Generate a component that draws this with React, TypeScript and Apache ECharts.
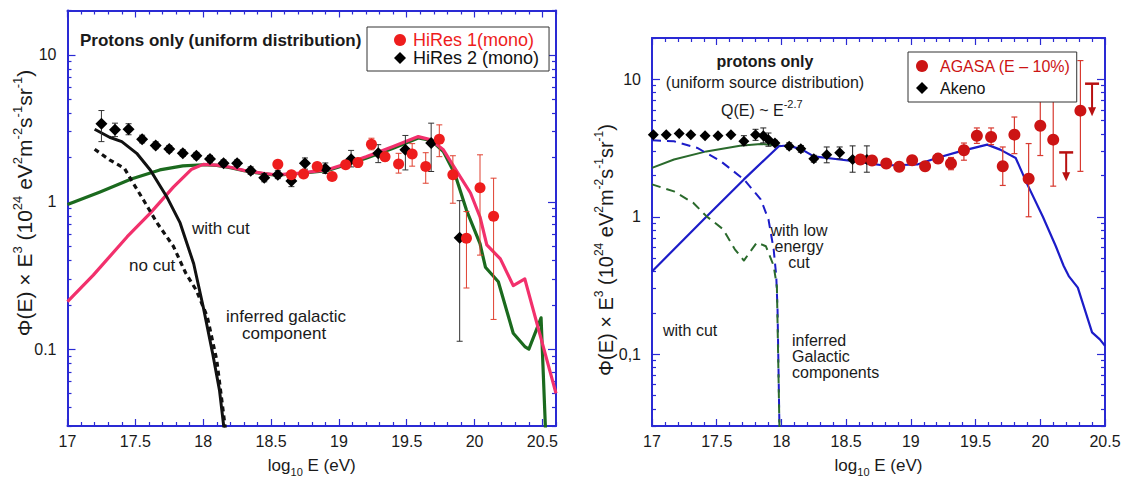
import React, { useEffect, useRef } from 'react';
import * as echarts from 'echarts';

// ---------------- Left panel (HiRes) ----------------
const hires1X = [18.55, 18.65, 18.74, 18.84, 18.95, 19.05, 19.14, 19.24, 19.34, 19.44, 19.54, 19.64, 19.74, 19.84, 19.94, 20.04, 20.14];
const hires1Y = [1.80, 1.53, 1.55, 1.74, 1.49, 1.79, 1.85, 2.47, 2.03, 1.81, 2.12, 1.74, 2.67, 1.53, 0.566, 1.25, 0.80];
const hires1Lo = [1.72, 1.46, 1.48, 1.66, 1.42, 1.71, 1.76, 2.26, 1.90, 1.57, 1.75, 1.34, 2.03, 0.98, 0.26, 0.435, 0.159];
const hires1Hi = [1.88, 1.60, 1.62, 1.82, 1.56, 1.87, 1.94, 2.71, 2.18, 2.14, 2.49, 2.16, 3.34, 2.06, 0.86, 2.09, 1.45];

const hires2X = [17.25, 17.35, 17.45, 17.55, 17.65, 17.75, 17.85, 17.95, 18.05, 18.15, 18.25, 18.35, 18.45, 18.55, 18.65, 18.75, 18.9, 19.09, 19.29, 19.49, 19.68, 19.89];
const hires2Y = [3.40, 3.09, 3.12, 2.67, 2.42, 2.29, 2.14, 2.06, 1.96, 1.83, 1.83, 1.63, 1.46, 1.53, 1.39, 1.83, 1.69, 1.95, 2.14, 2.26, 2.51, 0.57];
const hires2Lo = [2.57, 2.78, 2.86, 2.52, 2.30, 2.18, 2.04, 1.96, 1.86, 1.74, 1.74, 1.54, 1.37, 1.44, 1.27, 1.67, 1.56, 1.73, 1.85, 1.65, 1.61, 0.113];
const hires2Hi = [4.18, 3.43, 3.40, 2.84, 2.56, 2.42, 2.26, 2.17, 2.07, 1.93, 1.93, 1.73, 1.56, 1.63, 1.53, 1.99, 1.84, 2.24, 2.45, 2.83, 3.43, 1.02];

const pinkX = [17.0, 17.19, 17.44, 17.61, 17.78, 17.915, 18.0, 18.1, 18.2, 18.3, 18.45, 18.54, 18.71, 18.91, 19.03, 19.2, 19.4, 19.585, 19.68, 19.77, 19.855, 19.97, 20.04, 20.09, 20.19, 20.285, 20.37, 20.6];
const pinkY = [0.21, 0.318, 0.58, 0.84, 1.26, 1.67, 1.80, 1.78, 1.72, 1.64, 1.56, 1.53, 1.57, 1.65, 1.79, 2.03, 2.38, 2.78, 2.64, 2.26, 1.69, 1.15, 0.79, 0.51, 0.41, 0.27, 0.30, 0.05];

const greenX = [17.0, 17.24, 17.47, 17.68, 17.85, 18.0, 18.1, 18.2, 18.3, 18.45, 18.54, 18.71, 18.91, 19.03, 19.2, 19.4, 19.585, 19.68, 19.77, 19.855, 19.94, 20.04, 20.08, 20.175, 20.285, 20.37, 20.40, 20.49, 20.525];
const greenY = [0.96, 1.17, 1.43, 1.65, 1.76, 1.79, 1.77, 1.71, 1.63, 1.55, 1.52, 1.56, 1.63, 1.76, 1.98, 2.32, 2.72, 2.62, 2.20, 1.55, 0.88, 0.52, 0.36, 0.287, 0.128, 0.104, 0.10, 0.163, 0.025];

const withCutX = [17.2, 17.31, 17.4, 17.51, 17.61, 17.73, 17.83, 17.93, 18.0, 18.07, 18.12, 18.155];
const withCutY = [3.12, 2.75, 2.57, 2.14, 1.65, 1.09, 0.72, 0.38, 0.194, 0.093, 0.0526, 0.028];

const noCutX = [17.2, 17.31, 17.42, 17.47, 17.56, 17.66, 17.78, 17.87, 17.95, 18.03, 18.1, 18.165];
const noCutY = [2.28, 1.93, 1.69, 1.41, 1.03, 0.72, 0.50, 0.33, 0.25, 0.166, 0.084, 0.028];

// ---------------- Right panel (AGASA / Akeno) ----------------
const akenoX = [17.01, 17.11, 17.21, 17.30, 17.41, 17.51, 17.61, 17.71, 17.80, 17.86, 17.90, 17.95, 18.06, 18.15, 18.25, 18.35, 18.45, 18.55, 18.66];
const akenoY = [3.96, 3.96, 4.03, 3.96, 3.89, 3.89, 3.96, 3.54, 3.96, 3.89, 3.64, 3.44, 3.26, 3.12, 2.64, 2.83, 2.92, 2.61, 2.61];
const akenoLo = [3.85, 3.85, 3.92, 3.85, 3.78, 3.78, 3.85, 3.30, 3.60, 3.45, 3.26, 3.30, 3.10, 2.95, 2.50, 2.47, 2.64, 2.11, 2.11];
const akenoHi = [4.07, 4.07, 4.14, 4.07, 4.00, 4.00, 4.07, 3.89, 4.33, 4.43, 4.07, 3.60, 3.45, 3.30, 2.80, 3.22, 3.22, 3.28, 3.28];

const agasaX = [18.61, 18.70, 18.81, 18.91, 19.01, 19.11, 19.21, 19.31, 19.41, 19.51, 19.62, 19.71, 19.80, 19.91, 20.0, 20.1, 20.31];
const agasaY = [2.61, 2.57, 2.44, 2.31, 2.58, 2.33, 2.65, 2.44, 3.05, 3.89, 3.81, 2.33, 3.96, 1.89, 4.6, 3.64, 5.92];
const agasaLo = [2.50, 2.46, 2.34, 2.21, 2.47, 2.23, 2.45, 2.20, 2.58, 3.42, 3.35, 1.69, 2.88, 1.0, 2.79, 1.67, 2.14];
const agasaHi = [2.72, 2.68, 2.55, 2.41, 2.69, 2.43, 2.87, 2.70, 3.44, 4.43, 4.43, 3.22, 5.32, 3.41, 7.1, 7.1, 13.7];

const limitX = [20.2, 20.40];
const limitTop = [2.94, 9.3];
const limitBottom = [1.81, 5.4];

const blueX = [17.0, 17.42, 17.71, 17.98, 18.04, 18.15, 18.25, 18.45, 18.56, 18.79, 19.05, 19.2, 19.38, 19.59, 19.69, 19.81, 19.90, 20.02, 20.12, 20.18, 20.22, 20.29, 20.40, 20.46, 20.5];
const blueY = [0.40, 1.0, 1.87, 3.26, 3.30, 3.12, 2.75, 2.61, 2.54, 2.36, 2.40, 2.68, 2.99, 3.35, 3.08, 2.68, 1.72, 1.0, 0.61, 0.44, 0.37, 0.305, 0.144, 0.128, 0.115];

const greenRX = [17.0, 17.17, 17.42, 17.68, 17.84, 17.965, 18.0];
const greenRY = [2.27, 2.61, 2.99, 3.29, 3.39, 3.30, 3.28];

const blueDashX = [17.0, 17.17, 17.35, 17.53, 17.71, 17.84, 17.9, 17.94, 17.96, 17.97, 17.985];
const blueDashY = [3.60, 3.54, 3.17, 2.54, 1.87, 1.34, 0.955, 0.58, 0.37, 0.21, 0.028];

const greenDashX = [17.0, 17.17, 17.32, 17.42, 17.55, 17.64, 17.71, 17.81, 17.88, 17.94, 17.965, 17.985];
const greenDashY = [1.72, 1.53, 1.26, 1.01, 0.81, 0.58, 0.48, 0.65, 0.61, 0.44, 0.31, 0.028];

// ---------------- Axis ticks ----------------
const majorXTicks = [17, 17.5, 18, 18.5, 19, 19.5, 20, 20.5];
const majorYTicks = [0.1, 1, 10];

const FONT = '"Liberation Sans", Arial, Helvetica, sans-serif';
const FRAME = '#2a2ad4';

function minorXTicks(max: number) {
  const out: number[] = [];
  for (let i = 171; i <= Math.round(max * 10); i++) if (i % 5 !== 0) out.push(i / 10);
  return out;
}
function minorYTicks() {
  const out: number[] = [];
  [0.01, 0.1, 1, 10].forEach((d) => {
    for (let k = 2; k <= 9; k++) {
      const v = +(k * d).toPrecision(3);
      if (v >= 0.03 && v <= 20) out.push(v);
    }
  });
  return out;
}

const zip = (xs: number[], ys: number[]) => xs.map((x, i) => [x, ys[i]]);
const zip3 = (xs: number[], a: number[], b: number[]) => xs.map((x, i) => [x, a[i], b[i]]);

const xTitle = '{n|log}{s|10}{n| E (eV)}';
const yTitle = '{n|Φ(E) × E}{p|3}{n| (10}{p|24}{n| eV}{p|2}{n|m}{p|-2}{n|s}{p|-1}{n|sr}{p|-1}{n|)}';

function makeXAxes(gridIndex: number, max: number, labelSize: number) {
  const base = { type: 'value', gridIndex, min: 17, max, splitLine: { show: false } };
  const label = {
    show: true, customValues: majorXTicks, fontSize: labelSize, color: '#1a1a1a', fontFamily: FONT, margin: 7,
    formatter: (v: number) => String(Math.round(v * 10) / 10),
  };
  const mk = (position: string, main: boolean) => ({
    ...base,
    position,
    axisLine: { show: main, onZero: false, lineStyle: { color: FRAME, width: 2 } },
    axisTick: { show: true, inside: true, length: main ? 7 : 4, customValues: main ? majorXTicks : minorXTicks(max), lineStyle: { color: FRAME, width: 1.2 } },
    axisLabel: main && position === 'bottom' ? label : { show: false },
    ...(main && position === 'bottom'
      ? {
          name: xTitle, nameLocation: 'middle', nameGap: 27,
          nameTextStyle: {
            rich: {
              n: { fontSize: 17, fontFamily: FONT, color: '#1a1a1a', lineHeight: 24 },
              s: { fontSize: 11, fontFamily: FONT, color: '#1a1a1a', lineHeight: 11, verticalAlign: 'bottom' },
            },
          },
        }
      : {}),
  });
  return [mk('bottom', true), mk('bottom', false), mk('top', true), mk('top', false)];
}

function makeYAxes(gridIndex: number, tenth: string, labelSize: number, margin: number) {
  const base = { type: 'log', logBase: 10, gridIndex, min: 0.03, max: 20, splitLine: { show: false }, minorTick: { show: false } };
  const mk = (position: string, main: boolean) => ({
    ...base,
    position,
    axisLine: { show: main, onZero: false, lineStyle: { color: FRAME, width: 2 } },
    axisTick: { show: true, inside: true, length: main ? 8 : 4, customValues: main ? majorYTicks : minorYTicks(), lineStyle: { color: FRAME, width: 1.2 } },
    axisLabel:
      main && position === 'left'
        ? {
            show: true, customValues: majorYTicks, fontSize: labelSize, color: '#1a1a1a', fontFamily: FONT, margin,
            formatter: (v: number) => (Math.abs(v - 0.1) < 1e-6 ? tenth : String(Math.round(v))),
          }
        : { show: false },
  });
  return [mk('left', true), mk('left', false), mk('right', true), mk('right', false)];
}

function lineSeries(name: string, xs: number[], ys: number[], xi: number, color: string, width: number, dash?: number[], z = 2) {
  return {
    type: 'line', name, xAxisIndex: xi, yAxisIndex: xi, data: zip(xs, ys), showSymbol: false, symbol: 'none',
    lineStyle: { color, width, type: dash ? dash : 'solid', cap: 'butt', join: 'round' },
    z, silent: true, clip: true,
  };
}

function errorSeries(name: string, xs: number[], lo: number[], hi: number[], xi: number, color: string, width: number) {
  return {
    type: 'custom', name, xAxisIndex: xi, yAxisIndex: xi, z: 3, silent: true,
    data: zip3(xs, lo, hi),
    encode: { x: 0, y: [1, 2] },
    renderItem: (_p: any, api: any) => {
      const x = api.value(0);
      const a = api.coord([x, api.value(1)]);
      const b = api.coord([x, api.value(2)]);
      const c = 3;
      const style = { stroke: color, lineWidth: width };
      return {
        type: 'group',
        children: [
          { type: 'line', shape: { x1: a[0], y1: a[1], x2: b[0], y2: b[1] }, style },
          { type: 'line', shape: { x1: a[0] - c, y1: a[1], x2: a[0] + c, y2: a[1] }, style },
          { type: 'line', shape: { x1: b[0] - c, y1: b[1], x2: b[0] + c, y2: b[1] }, style },
        ],
      };
    },
  };
}

function limitSeries(xi: number, color: string) {
  return {
    type: 'custom', name: 'upper limits', xAxisIndex: xi, yAxisIndex: xi, z: 4, silent: true,
    data: zip3(limitX, limitTop, limitBottom),
    encode: { x: 0, y: [1, 2] },
    renderItem: (_p: any, api: any) => {
      const x = api.value(0);
      const t = api.coord([x, api.value(1)]);
      const b = api.coord([x, api.value(2)]);
      const w = 7, ah = 9, aw = 4;
      return {
        type: 'group',
        children: [
          { type: 'line', shape: { x1: t[0] - w, y1: t[1], x2: t[0] + w, y2: t[1] }, style: { stroke: color, lineWidth: 2.5 } },
          { type: 'line', shape: { x1: t[0], y1: t[1], x2: b[0], y2: b[1] - ah + 1 }, style: { stroke: color, lineWidth: 2 } },
          { type: 'polygon', shape: { points: [[b[0] - aw, b[1] - ah], [b[0] + aw, b[1] - ah], [b[0], b[1]]] }, style: { fill: color } },
        ],
      };
    },
  };
}

function scatterSeries(name: string, xs: number[], ys: number[], xi: number, color: string, symbol: string, size: number) {
  return {
    type: 'scatter', name, xAxisIndex: xi, yAxisIndex: xi, data: zip(xs, ys), symbol, symbolSize: size,
    itemStyle: { color, opacity: 1 }, z: 5, silent: true,
  };
}

function txt(text: string, x: number, y: number, size: number, opts: any = {}) {
  return {
    type: 'text', x, y, silent: true,
    ...(opts.rotation ? { rotation: opts.rotation } : {}),
    style: {
      text, fontSize: size, fontFamily: FONT, fontWeight: opts.bold ? 'bold' : 'normal',
      fill: opts.color || '#1a1a1a', align: opts.align || 'left', verticalAlign: 'middle',
      ...(opts.rich ? { rich: opts.rich } : {}),
    },
    z: 100,
  };
}

function yTitleRich(size: number) {
  const sup = Math.round(size * 0.62);
  return {
    n: { fontSize: size, fontFamily: FONT, fill: '#1a1a1a', lineHeight: size + 6 },
    p: { fontSize: sup, fontFamily: FONT, fill: '#1a1a1a', lineHeight: sup, verticalAlign: 'top' },
  };
}

export default function App() {
  const ref = useRef<HTMLDivElement>(null);
  useEffect(() => {
    if (!ref.current) return;
    const chart = echarts.init(ref.current, undefined, { renderer: 'svg' });
    const PINK = '#f2306c';
    const GREEN_L = '#1b6a1e';
    const RED_L = '#ee1d1d';
    const RED_R = '#cc1414';
    const BLUE = '#1c1cc8';
    const GREEN_R = '#2a6a2c';

    const option: any = {
      animation: false,
      backgroundColor: '#ffffff',
      textStyle: { fontFamily: FONT },
      grid: [
        { left: 67.5, top: 10.5, width: 488.5, height: 415.5 },
        { left: 652, top: 38, width: 453, height: 388 },
      ],
      xAxis: [...makeXAxes(0, 20.6, 16), ...makeXAxes(1, 20.5, 16)],
      yAxis: [...makeYAxes(0, '0.1', 16, 11), ...makeYAxes(1, '0,1', 16, 11)],
      legend: [
        {
          left: 367, top: 27, orient: 'vertical', selectedMode: false,
          backgroundColor: '#ffffff', borderColor: '#333', borderWidth: 1, borderRadius: 0,
          padding: [4, 10, 4, 27], itemGap: 0, itemWidth: 12, itemHeight: 12,
          textStyle: { fontSize: 18, fontFamily: FONT, lineHeight: 18, padding: [0, 0, 0, 2] },
          data: [
            { name: 'HiRes 1(mono)', icon: 'circle', textStyle: { color: RED_L } },
            { name: 'HiRes 2 (mono)', icon: 'diamond', textStyle: { color: '#111' } },
          ],
        },
        {
          left: 908, top: 52, orient: 'vertical', selectedMode: false,
          backgroundColor: '#ffffff', borderColor: '#333', borderWidth: 1, borderRadius: 0,
          padding: [4, 6, 4, 8], itemGap: 2, itemWidth: 12, itemHeight: 12,
          textStyle: { fontSize: 16, fontFamily: FONT, lineHeight: 20, padding: [0, 0, 0, 7] },
          data: [
            { name: 'AGASA (E – 10%)', icon: 'circle', textStyle: { color: RED_R } },
            { name: 'Akeno', icon: 'diamond', textStyle: { color: '#111' } },
          ],
        },
      ],
      graphic: {
        elements: [
          txt(yTitle, 24, 203, 21, { align: 'center', rotation: Math.PI / 2, rich: yTitleRich(21) }),
          txt(yTitle, 606, 250, 20, { align: 'center', rotation: Math.PI / 2, rich: yTitleRich(20) }),
          txt('Protons only (uniform distribution)', 80, 40, 17, { bold: true }),
          txt('with cut', 192, 228, 17),
          txt('no cut', 129, 265, 17),
          txt('inferred galactic', 226, 316, 17),
          txt('component', 242, 333, 17),
          txt('protons only', 765, 61, 16, { bold: true, align: 'center' }),
          txt('(uniform source distribution)', 765, 82, 16, { align: 'center' }),
          txt('{n|Q(E) ~ E}{s|-2.7}', 721, 110, 16, {
            rich: {
              n: { fontSize: 16, fontFamily: FONT, fill: '#1a1a1a', lineHeight: 24 },
              s: { fontSize: 11, fontFamily: FONT, fill: '#1a1a1a', lineHeight: 11, verticalAlign: 'top' },
            },
          }),
          txt('with low', 799, 230, 16, { align: 'center' }),
          txt('energy', 799, 246, 16, { align: 'center' }),
          txt('cut', 799, 262, 16, { align: 'center' }),
          txt('with cut', 663, 330, 16),
          txt('inferred', 792, 340, 16),
          txt('Galactic', 792, 356, 16),
          txt('components', 792, 372, 16),
        ],
      },
      series: [
        // left panel
        lineSeries('model (no low-energy cut)', greenX, greenY, 0, GREEN_L, 3.2),
        lineSeries('model (with low-energy cut)', pinkX, pinkY, 0, PINK, 3.2, undefined, 2.1),
        lineSeries('galactic, no cut', noCutX, noCutY, 0, '#111', 3.2, [5, 4], 2.2),
        lineSeries('galactic, with cut', withCutX, withCutY, 0, '#111', 3, undefined, 2.3),
        errorSeries('HiRes 2 errors', hires2X, hires2Lo, hires2Hi, 0, '#333', 1),
        errorSeries('HiRes 1 errors', hires1X, hires1Lo, hires1Hi, 0, '#e04030', 1),
        scatterSeries('HiRes 2 (mono)', hires2X, hires2Y, 0, '#000', 'diamond', 12),
        scatterSeries('HiRes 1(mono)', hires1X, hires1Y, 0, RED_L, 'circle', 11),
        // right panel
        lineSeries('model, no cut', greenRX, greenRY, 4, GREEN_R, 2),
        lineSeries('model, with cut', blueX, blueY, 4, BLUE, 2.2, undefined, 2.1),
        lineSeries('galactic with low energy cut', blueDashX, blueDashY, 4, BLUE, 2, [9, 6], 2.2),
        lineSeries('galactic without cut', greenDashX, greenDashY, 4, GREEN_R, 2, [9, 6], 2.2),
        errorSeries('Akeno errors', akenoX, akenoLo, akenoHi, 4, '#222', 1),
        errorSeries('AGASA errors', agasaX, agasaLo, agasaHi, 4, '#d83a30', 1.2),
        limitSeries(4, '#b81010'),
        scatterSeries('Akeno', akenoX, akenoY, 4, '#000', 'diamond', 11),
        scatterSeries('AGASA (E – 10%)', agasaX, agasaY, 4, RED_R, 'circle', 12),
      ],
    };
    chart.setOption(option);
    return () => chart.dispose();
  }, []);
  return (
    <div
      ref={ref}
      style={{ position: 'absolute', left: 0, top: 0, width: 1127, height: 482, background: '#fff' }}
    />
  );
}
